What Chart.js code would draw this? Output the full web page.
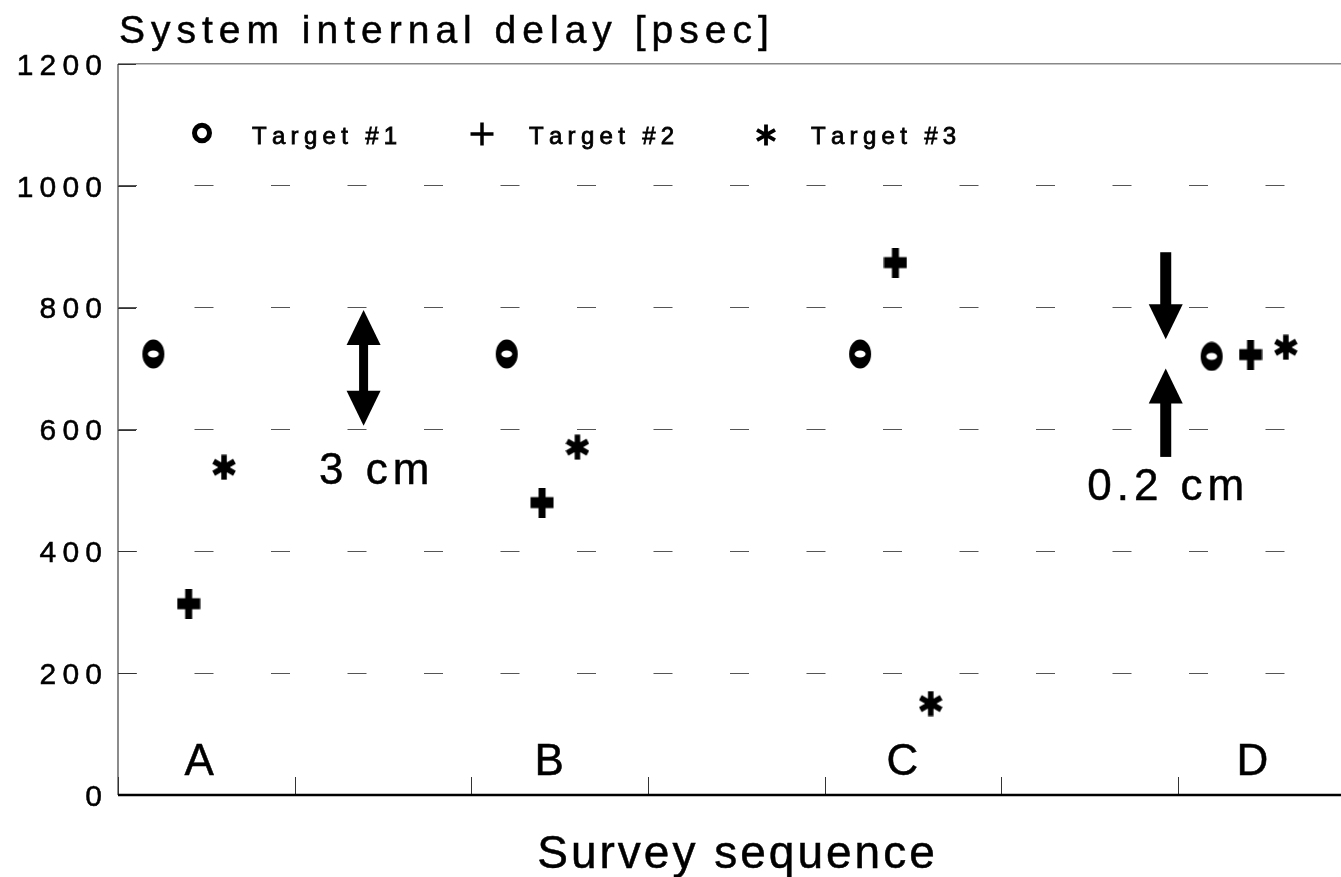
<!DOCTYPE html>
<html>
<head>
<meta charset="utf-8">
<title>System internal delay</title>
<script src="https://cdn.jsdelivr.net/npm/chart.js@4.4.1/dist/chart.umd.min.js"></script>
<style>
  html, body { margin: 0; padding: 0; background: #fff; overflow: hidden; }
  #delayChart { display: block; }
</style>
</head>
<body>
<canvas id="delayChart" width="1341" height="877"></canvas>
<script>
// survey positions (x in tick units) and delays in psec
const target1X = [0.2, 2.2, 4.2, 6.19];
const target1Y = [724, 724, 724, 720];
const target2X = [0.4, 2.4, 4.4, 6.41];
const target2Y = [314, 480, 874, 723];
const target3X = [0.6, 2.6, 4.6, 6.61];
const target3Y = [538, 571, 150, 735];

const yTicks = [0, 200, 400, 600, 800, 1000, 1200];
const xTicks = [1, 2, 3, 4, 5, 6];

const seqLabels = ["A", "B", "C", "D"];
const seqLabelX = [0.46, 2.44, 4.44, 6.42];
const seqLabelY = [58, 58, 58, 58];

// arrows: [x, from, to]
const spanArrowX = [1.39];
const spanArrowLow = [606];
const spanArrowHigh = [796];
const downArrow = [5.93, 891, 748];
const upArrow = [5.93, 555, 700];

const noteText = ["3 cm", "0.2 cm"];
const noteX = [1.45, 5.93];
const noteY = [536, 510];

const legendText = ["Target #1", "Target #2", "Target #3"];

const FONT = '"Liberation Sans", Arial, Helvetica, sans-serif';

function markerCanvas(w, h, draw) {
    const c = document.createElement("canvas");
    c.width = w;
    c.height = h;
    const g = c.getContext("2d");
    g.fillStyle = "#000";
    g.strokeStyle = "#000";
    draw(g, w / 2, h / 2);
    return c;
}

const ringMark = markerCanvas(24, 30, (g, cx, cy) => {
    g.beginPath();
    g.ellipse(cx, cy, 11, 14.5, 0, 0, Math.PI * 2);
    g.moveTo(cx + 5.5, cy);
    g.ellipse(cx, cy, 5.5, 3.5, 0, 0, Math.PI * 2);
    g.fill("evenodd");
});
const plusMark = markerCanvas(24, 30, (g, cx, cy) => {
    g.fillRect(cx - 11.5, cy - 5.5, 23, 11);
    g.fillRect(cx - 3.5, cy - 15, 7, 30);
});
const starMark = markerCanvas(24, 26, (g, cx, cy) => {
    g.lineWidth = 5.5;
    g.beginPath();
    g.moveTo(cx, cy - 12.5); g.lineTo(cx, cy + 12.5);
    g.moveTo(cx - 10.4, cy - 6); g.lineTo(cx + 10.4, cy + 6);
    g.moveTo(cx - 10.4, cy + 6); g.lineTo(cx + 10.4, cy - 6);
    g.stroke();
    g.beginPath();
    g.arc(cx, cy, 6, 0, Math.PI * 2);
    g.fill();
});

// thinner symbols for the legend line
const legendMarks = [
    markerCanvas(22, 22, (g, cx, cy) => {
        g.lineWidth = 5;
        g.beginPath();
        g.ellipse(cx, cy, 7.5, 7.7, 0, 0, Math.PI * 2);
        g.stroke();
    }),
    markerCanvas(26, 26, (g, cx, cy) => {
        g.fillRect(cx - 11.5, cy - 1.75, 23, 3.5);
        g.fillRect(cx - 1.75, cy - 11.5, 3.5, 23);
    }),
    markerCanvas(22, 24, (g, cx, cy) => {
        g.lineWidth = 3.8;
        g.beginPath();
        g.moveTo(cx, cy - 10.5); g.lineTo(cx, cy + 10.5);
        g.moveTo(cx - 9, cy - 5.2); g.lineTo(cx + 9, cy + 5.2);
        g.moveTo(cx - 9, cy + 5.2); g.lineTo(cx + 9, cy - 5.2);
        g.stroke();
    })
];
const legendMarkX = [202, 482, 766];
const legendMarkY = [133, 134, 135];
const legendTextX = [252, 529, 811];

function spacedText(ctx, text, x, y, size, spacing, align, heavy) {
    ctx.font = size + "px " + FONT;
    ctx.textAlign = "left";
    ctx.textBaseline = "alphabetic";
    const chars = [...text];
    const widths = chars.map(ch => ctx.measureText(ch).width);
    const total = widths.reduce((a, b) => a + b, 0) + spacing * (chars.length - 1);
    let cx = align === "center" ? x - total / 2 : align === "right" ? x - total : x;
    chars.forEach((ch, i) => {
        ctx.fillText(ch, cx, y);
        if (heavy) ctx.strokeText(ch, cx, y);
        cx += widths[i] + spacing;
    });
}

function arrowHead(ctx, x, tipY, dir) {
    // dir = -1 points up, +1 points down
    ctx.beginPath();
    ctx.moveTo(x, tipY);
    ctx.lineTo(x - 17, tipY - dir * 35);
    ctx.lineTo(x + 17, tipY - dir * 35);
    ctx.closePath();
    ctx.fill();
}

function shaft(ctx, x, y1, y2, w) {
    ctx.fillRect(x - w / 2, Math.min(y1, y2), w, Math.abs(y2 - y1));
}

const decor = {
    id: "decor",
    afterDatasetsDraw(chart) {
        const ctx = chart.ctx;
        const xs = chart.scales.x, ys = chart.scales.y;
        const area = chart.chartArea;
        ctx.save();

        // axes
        ctx.strokeStyle = "#666";
        ctx.lineWidth = 1.5;
        ctx.beginPath();
        ctx.moveTo(area.left, area.top);
        ctx.lineTo(area.left, area.bottom);
        ctx.stroke();

        ctx.strokeStyle = "#333";
        ctx.lineWidth = 1;
        ctx.beginPath();
        yTicks.forEach(v => {
            if (v === 0) return;
            const py = Math.round(ys.getPixelForValue(v)) + 0.5;
            ctx.moveTo(area.left, py);
            ctx.lineTo(area.left + 18, py);
        });
        xTicks.forEach(v => {
            const px = Math.round(xs.getPixelForValue(v)) + 0.5;
            ctx.moveTo(px, area.bottom);
            ctx.lineTo(px, area.bottom - 18);
        });
        ctx.moveTo(area.left + 0.5, area.bottom);
        ctx.lineTo(area.left + 0.5, area.bottom - 18);
        ctx.stroke();

        ctx.strokeStyle = "#000";
        ctx.lineWidth = 2.5;
        ctx.beginPath();
        ctx.moveTo(area.left, area.bottom);
        ctx.lineTo(area.right, area.bottom);
        ctx.stroke();

        ctx.fillStyle = "#000";
        ctx.strokeStyle = "#000";
        ctx.lineWidth = 0.5;

        // y tick labels
        yTicks.forEach(v => {
            const py = ys.getPixelForValue(v);
            spacedText(ctx, String(v), 102, py + 10.8, 30, 6.2, "right", true);
        });

        // titles
        spacedText(ctx, "System internal delay [psec]", 119, 43, 39, 6.0, "left", true);
        spacedText(ctx, "Survey sequence", 736, 868, 46, 3, "center", true);

        // legend
        ctx.lineWidth = 0.8;
        legendText.forEach((t, i) => {
            const m = legendMarks[i];
            ctx.drawImage(m, legendMarkX[i] - m.width / 2, legendMarkY[i] - m.height / 2);
            spacedText(ctx, t, legendTextX[i], 143.5, 24, 5.3, "left", true);
        });
        ctx.lineWidth = 0.5;

        // survey sequence letters
        seqLabels.forEach((t, i) => {
            spacedText(ctx, t, xs.getPixelForValue(seqLabelX[i]),
                ys.getPixelForValue(seqLabelY[i]) + 15.8, 44, 0, "center", true);
        });

        // arrows
        spanArrowX.forEach((v, i) => {
            const px = xs.getPixelForValue(v);
            const lo = ys.getPixelForValue(spanArrowLow[i]);
            const hi = ys.getPixelForValue(spanArrowHigh[i]);
            arrowHead(ctx, px, hi, -1);
            arrowHead(ctx, px, lo, 1);
            shaft(ctx, px, hi + 30, lo - 30, 9);
        });
        {
            const px = xs.getPixelForValue(downArrow[0]);
            const top = ys.getPixelForValue(downArrow[1]);
            const tip = ys.getPixelForValue(downArrow[2]);
            shaft(ctx, px, top, tip - 30, 11);
            arrowHead(ctx, px, tip, 1);
        }
        {
            const px = xs.getPixelForValue(upArrow[0]);
            const bottom = ys.getPixelForValue(upArrow[1]);
            const tip = ys.getPixelForValue(upArrow[2]);
            shaft(ctx, px, bottom, tip + 30, 11);
            arrowHead(ctx, px, tip, -1);
        }

        noteText.forEach((t, i) => {
            spacedText(ctx, t, xs.getPixelForValue(noteX[i]),
                ys.getPixelForValue(noteY[i]) + 15.8, 44, 5, "center", true);
        });

        ctx.restore();
    }
};

function points(xv, yv) {
    return xv.map((x, i) => ({x: x, y: yv[i]}));
}

const ctx = document.getElementById("delayChart");
new Chart(ctx, {
    type: "scatter",
    data: {
        datasets: [
            {label: "Target #1", data: points(target1X, target1Y), pointStyle: ringMark, pointRadius: 12},
            {label: "Target #2", data: points(target2X, target2Y), pointStyle: plusMark, pointRadius: 12},
            {label: "Target #3", data: points(target3X, target3Y), pointStyle: starMark, pointRadius: 12}
        ]
    },
    options: {
        responsive: false,
        maintainAspectRatio: false,
        devicePixelRatio: 1,
        animation: false,
        layout: {autoPadding: false, padding: {top: 64, right: 0, bottom: 0, left: 0}},
        plugins: {
            legend: {display: false},
            tooltip: {enabled: false}
        },
        scales: {
            x: {
                type: "linear",
                min: 0,
                max: 6.922,
                ticks: {display: false},
                grid: {display: false},
                border: {display: false},
                afterFit: s => { s.height = 82; }
            },
            y: {
                min: 0,
                max: 1200,
                ticks: {display: false, stepSize: 200},
                grid: {
                    drawTicks: false,
                    lineWidth: c => (c.tick && c.tick.value === 1200 ? 1.5 : 1),
                    color: c => {
                        if (!c.tick || c.tick.value === 0) return "rgba(0,0,0,0)";
                        return c.tick.value === 1200 ? "#888" : "#555";
                    }
                },
                border: {
                    display: false,
                    dash: c => (c.tick && c.tick.value === 1200 ? [] : [19, 57.5])
                },
                afterFit: s => { s.width = 118; }
            }
        }
    },
    plugins: [decor]
});
</script>
</body>
</html>
